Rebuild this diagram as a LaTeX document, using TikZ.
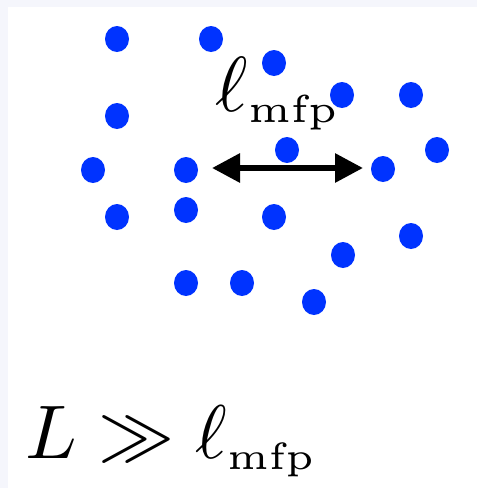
\documentclass[tikz,border=0pt]{standalone}
\usetikzlibrary{shapes.geometric,arrows.meta}
\definecolor{dotblue}{RGB}{0,51,255}
\definecolor{edgebg}{RGB}{245,246,252}
\begin{document}
\begin{tikzpicture}[x=1pt,y=-1pt,
  dot/.style={ellipse,fill=dotblue,inner sep=0pt,minimum width=24pt,minimum height=26pt},
  lbl/.style={inner sep=0pt,anchor=base west,font=\fontsize{10}{12}\selectfont}]
\fill[edgebg] (0,0) rectangle (477,488);
\fill[white] (8,7) rectangle (477,488);
\useasboundingbox (0,0) rectangle (477,488);
\node[dot] (d1) at (117,39) {};
\node[dot] (d2) at (211,39) {};
\node[dot] (d3) at (274,63) {};
\node[dot] (d4) at (342,95) {};
\node[dot] (d5) at (411,95) {};
\node[dot] (d6) at (117,116) {};
\node[dot] (d7) at (437,150) {};
\node[dot] (d8) at (287,150) {};
\node[dot] (d9) at (93,170) {};
\node[dot] (d10) at (186,170) {};
\node[dot] (d11) at (383,169) {};
\node[dot] (d12) at (117,217) {};
\node[dot] (d13) at (186,210) {};
\node[dot] (d14) at (274,217) {};
\node[dot] (d15) at (411,236) {};
\node[dot] (d16) at (343,255) {};
\node[dot] (d17) at (186,283) {};
\node[dot] (d18) at (242,283) {};
\node[dot] (d19) at (314,302) {};
\coordinate (a1) at (212,168);
\coordinate (a2) at (363,168);
\draw[line width=6pt,{Triangle[length=28pt,width=28pt]}-{Triangle[length=28pt,width=28pt]}] (a1) -- (a2);
\node[lbl,scale=7.8] (mfp) at (214,111) {$\ell_{\scriptscriptstyle\mathrm{mfp}}$};
\node[lbl,scale=7.6] (rel) at (24,458) {$L\gg\ell_{\scriptscriptstyle\mathrm{mfp}}$};
\end{tikzpicture}
\end{document}
